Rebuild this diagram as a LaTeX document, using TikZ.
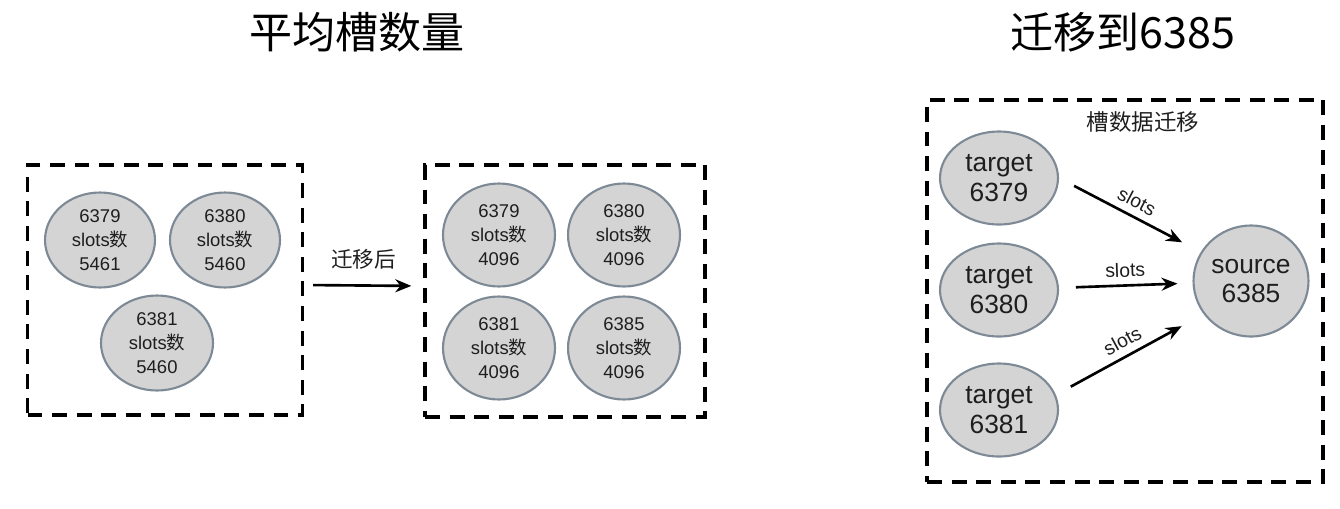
\documentclass[tikz,border=0pt]{standalone}
\usepackage{fontspec}
\setmainfont{Liberation Sans}
\newfontfamily\cjk{Noto Sans CJK SC}
\usetikzlibrary{shapes.geometric,arrows.meta}
\definecolor{nodegray}{RGB}{212,212,212}
\definecolor{rimgray}{RGB}{125,138,150}
\definecolor{inkgray}{RGB}{30,30,30}

\begin{document}
\begin{tikzpicture}[x=0.02cm, y=-0.02cm, text=inkgray,
    slot/.style={ellipse, draw=rimgray, line width=1.2pt, fill=nodegray, inner sep=0pt,
      minimum width=2.2cm, minimum height=1.9cm, align=center, font=\fontsize{10.5}{13.6}\selectfont},
    slotmid/.style={slot, minimum width=2.24cm, minimum height=2.06cm},
    bigslot/.style={slot, minimum width=2.36cm, minimum height=1.86cm, font=\fontsize{15}{17}\selectfont},
    dashbox/.style={draw=black, line width=2pt, dash pattern=on 8.5pt off 5.5pt, inner sep=0pt},
    mv/.style={-{Stealth[length=0.32cm,width=0.26cm]}, line width=1.5pt, draw=black},
    mvlbl/.style={above=3pt, sloped, inner sep=1pt, font=\fontsize{11}{13}\selectfont}]
    \useasboundingbox (0,0) rectangle (1340,508);

    % titles
    \node [font=\fontsize{24.5}{28}\selectfont\cjk, text=black] (title1) at (357,32) {平均槽数量};
    \node [font=\fontsize{24.5}{28}\selectfont\cjk, text=black] (title2) at (1123,32) {迁移到6385};

    % before
    \node [dashbox, minimum width=5.5cm, minimum height=5cm] (box1) at (165,290) {};
    \node [slot] (a6379) at (100,240) {6379\\slots{\cjk 数}\\5461};
    \node [slot] (a6380) at (225,240) {6380\\slots{\cjk 数}\\5460};
    \node [slot, minimum width=2.24cm] (a6381) at (157,343) {6381\\slots{\cjk 数}\\5460};

    % after
    \node [dashbox, minimum width=5.6cm, minimum height=5.04cm] (box2) at (565,291) {};
    \node [slotmid] (b6379) at (499,235) {6379\\slots{\cjk 数}\\4096};
    \node [slotmid] (b6380) at (624,235) {6380\\slots{\cjk 数}\\4096};
    \node [slotmid] (b6381) at (499,348) {6381\\slots{\cjk 数}\\4096};
    \node [slotmid] (b6385) at (624,348) {6385\\slots{\cjk 数}\\4096};

    \draw [mv, shorten <=0.18cm, shorten >=0.24cm] ([yshift=0.1cm]box1.east) --
      node [above=0.18cm, font=\fontsize{12.3}{14}\selectfont\cjk] (lbl) {迁移后} ([yshift=0.1cm]box2.west);

    % migration
    \node [dashbox, minimum width=7.92cm, minimum height=7.64cm] (box3) at (1125,291) {};
    \node [font=\fontsize{12.8}{15}\selectfont\cjk] (mig) at (1143,122) {槽数据迁移};
    \node [bigslot] (t6379) at (999,178) {target\\6379};
    \node [bigslot] (t6380) at (999,290) {target\\6380};
    \node [bigslot] (t6381) at (999,410) {target\\6381};
    \node [bigslot, minimum width=2.3cm, minimum height=2.22cm] (s6385) at (1251,281) {source\\6385};

    \draw [mv, shorten <=0.34cm, shorten >=0.42cm] (t6379.east) -- node [mvlbl] {slots} (s6385.150);
    \draw [mv, shorten <=0.34cm, shorten >=0.3cm] (t6380) -- node [mvlbl] {slots} (s6385);
    \draw [mv, shorten <=0.34cm, shorten >=0.5cm] (t6381.15) -- node [mvlbl] {slots} (s6385.215);
\end{tikzpicture}
\end{document}
